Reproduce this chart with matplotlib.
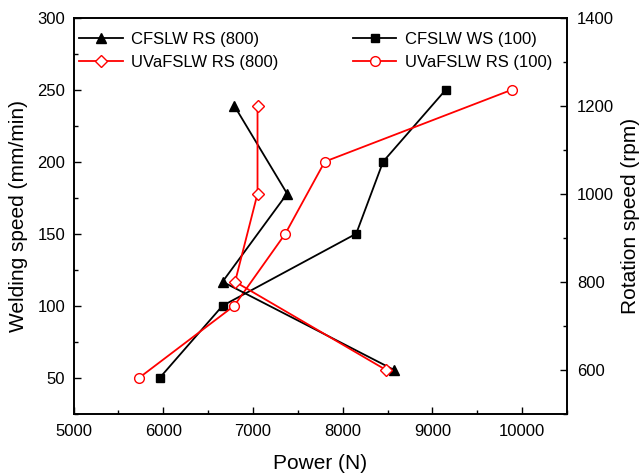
import matplotlib.pyplot as plt
from matplotlib.ticker import MultipleLocator

plt.rcParams['font.family'] = ['Liberation Sans', 'DejaVu Sans']

# rotation speed series (right axis)
rs = [600, 800, 1000, 1200]
cf_rs_power = [8570, 6660, 7380, 6790]
uva_rs_power = [8480, 6800, 7050, 7050]

# welding speed series (left axis)
ws = [50, 100, 150, 200, 250]
cf_ws_power = [5960, 6660, 8150, 8450, 9150]
uva_ws_power = [5730, 6790, 7360, 7800, 9890]

fig = plt.figure(figsize=(6.4, 4.73), dpi=100)
ax = fig.add_axes([0.115, 0.125, 0.771, 0.838])
ax2 = ax.twinx()

l3, = ax.plot(cf_ws_power, ws, color='black', marker='s', ms=6, lw=1.3,
              mfc='black', mec='black', label='CFSLW WS (100)')
l4, = ax.plot(uva_ws_power, ws, color='red', marker='o', ms=7, lw=1.3,
              mfc='white', mec='red', label='UVaFSLW RS (100)')
l1, = ax2.plot(cf_rs_power, rs, color='black', marker='^', ms=7.5, lw=1.3,
               mfc='black', mec='black', label='CFSLW RS (800)')
l2, = ax2.plot(uva_rs_power, rs, color='red', marker='D', ms=6, lw=1.3,
               mfc='white', mec='red', label='UVaFSLW RS (800)')

ax.set_xlim(5000, 10500)
ax.set_ylim(25, 300)
ax2.set_ylim(500, 1400)

ax.xaxis.set_major_locator(MultipleLocator(1000))
ax.xaxis.set_minor_locator(MultipleLocator(500))
ax.yaxis.set_major_locator(MultipleLocator(50))
ax.yaxis.set_minor_locator(MultipleLocator(25))
ax2.yaxis.set_major_locator(MultipleLocator(200))
ax2.yaxis.set_minor_locator(MultipleLocator(100))

ax.tick_params(which='both', direction='in', top=False, right=False, labelsize=12)
ax.tick_params(which='major', length=5, width=1, pad=7)
ax.tick_params(which='minor', length=3, width=1)
ax.tick_params(axis='y', which='major', pad=6)
ax2.tick_params(which='both', direction='in', labelsize=12)
ax2.tick_params(which='major', length=5, width=1, pad=7)
ax2.tick_params(which='minor', length=3, width=1)
ax.set_yticks([50, 100, 150, 200, 250, 300])
ax2.set_yticks([600, 800, 1000, 1200, 1400])

for a in (ax, ax2):
    for s in a.spines.values():
        s.set_linewidth(1.2)

ax.set_xlabel('Power (N)', fontsize=15, labelpad=11)
ax.set_ylabel('Welding speed (mm/min)', fontsize=15, labelpad=7)
ax2.set_ylabel('Rotation speed (rpm)', fontsize=15, labelpad=5)

leg1 = ax2.legend(handles=[l1, l2], loc='upper left', bbox_to_anchor=(-0.014, 0.995),
                  frameon=False, fontsize=12, handlelength=2.6, borderaxespad=0.45,
                  borderpad=0.3, handletextpad=0.5, labelspacing=0.5)
ax2.add_artist(leg1)
ax2.legend(handles=[l3, l4], loc='upper right', bbox_to_anchor=(0.995, 0.995),
           frameon=False, fontsize=12, handlelength=2.6, borderaxespad=0.45,
           borderpad=0.3, handletextpad=0.5, labelspacing=0.5)

fig.savefig('out.png', dpi=100)
